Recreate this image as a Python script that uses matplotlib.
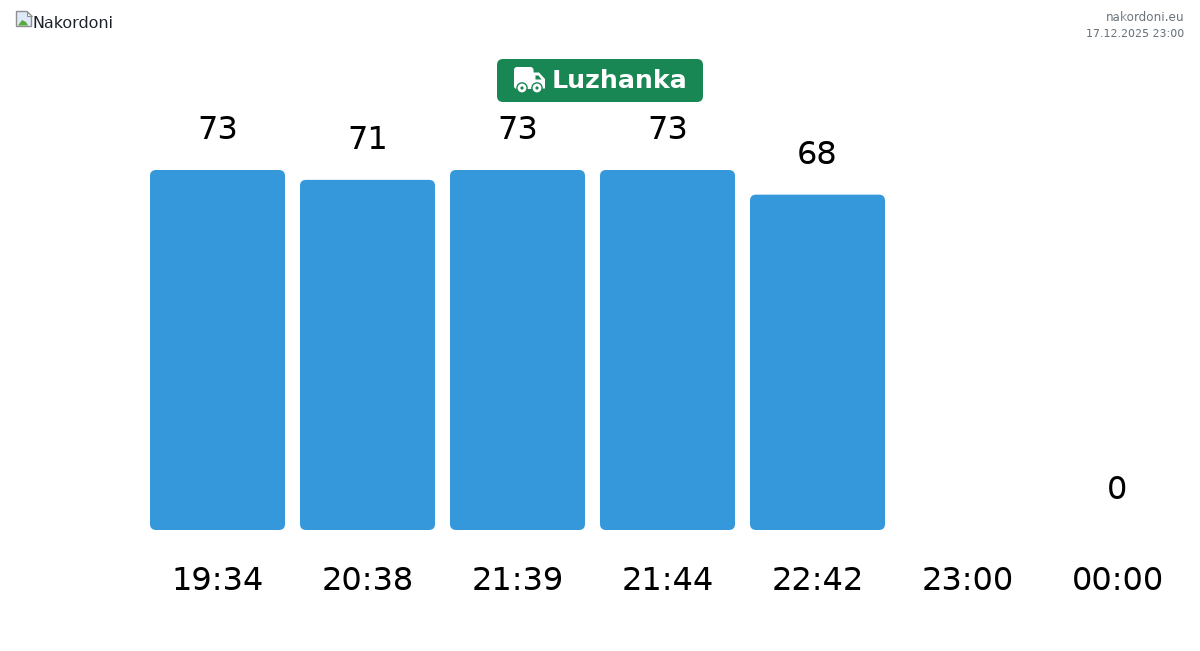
import matplotlib
matplotlib.use("Agg")
import matplotlib.pyplot as plt
from matplotlib.patches import FancyBboxPatch, Circle, Polygon

# chart values
times = ["19:34", "20:38", "21:39", "21:44", "22:42", "23:00", "00:00"]
counts = [73, 71, 73, 73, 68, None, 0]
site = "nakordoni.eu"
stamp = "17.12.2025 23:00"
logo_alt = "Nakordoni"
badge = "Luzhanka"

W, H = 1200, 651
BAR_COLOR = "#3498db"
GREEN = "#198754"
GREY = "#6c757d"
PT = 0.72  # px to pt at dpi 100

plt.rcParams["font.family"] = ["DejaVu Sans"]
plt.rcParams["text.hinting"] = "no_autohint"
fig = plt.figure(figsize=(W / 100, H / 100), dpi=100)

# overlay in pixel coordinates for header, badge and icons
top = fig.add_axes([0, 0, 1, 1])
top.set_xlim(0, W)
top.set_ylim(H, 0)
top.axis("off")

# bar axes: one category = 150 px, 73 = 360 px
ax = fig.add_axes([142.5 / W, (H - 530) / H, 1050 / W, 360 / H])
ax.set_xlim(-0.5, 6.5)
ax.set_ylim(0, 73)
ax.axis("off")

bar_w = 135 / 150
rx = 6 / 150
ry = 6 * 73 / 360
for i, (t, v) in enumerate(zip(times, counts)):
    if v:
        ax.add_patch(FancyBboxPatch((i - bar_w / 2, 0), bar_w, v,
                                    boxstyle=f"round,pad=0,rounding_size={rx}",
                                    mutation_aspect=ry / rx, fc=BAR_COLOR, ec="none"))
    if v is not None:
        ax.annotate(str(v), (i, v), xytext=(0, 31 * PT), textcoords="offset points",
                    ha="center", va="baseline", fontsize=32 * PT, color="black",
                    annotation_clip=False)
    ax.annotate(t, (i, 0), xytext=(0, -60 * PT), textcoords="offset points",
                ha="center", va="baseline", fontsize=32 * PT, color="black",
                annotation_clip=False)

# header text
top.text(33, 28, logo_alt, fontsize=16 * PT, color="#1a2029", ha="left", va="baseline")
top.text(1184, 21, site, fontsize=12 * PT, color=GREY, ha="right", va="baseline")
top.text(1184, 37, stamp, fontsize=11 * PT, color=GREY, ha="right", va="baseline")

# broken image icon
top.add_patch(Polygon([(16.5, 11.5), (27, 11.5), (31.5, 16), (31.5, 26.5), (16.5, 26.5)],
                      closed=True, fc="#dfe9f7", ec="#8f8f8f", lw=1.0))
top.add_patch(Polygon([(18, 25.5), (22, 20), (26, 22), (28, 25.5)], closed=True, fc="#5aa83c", ec="none"))
top.add_patch(Polygon([(27, 11.5), (27, 16), (31.5, 16)], closed=True, fc="white", ec="#8f8f8f", lw=0.8))

# badge
top.add_patch(FancyBboxPatch((497, 59), 206, 43, boxstyle="round,pad=0,rounding_size=6",
                             fc=GREEN, ec="none"))
top.text(552, 88.5, badge, fontsize=25.2 * PT, fontweight="bold", color="white",
         ha="left", va="baseline")

# truck icon
top.add_patch(FancyBboxPatch((514, 67), 19.5, 22, boxstyle="round,pad=0,rounding_size=3",
                             fc="white", ec="none"))
top.add_patch(Polygon([(533, 72.5), (539, 72.5), (545, 79), (545, 88.5), (533, 88.5)], closed=True,
                      fc="white", ec="none"))
top.add_patch(Polygon([(535.5, 75.5), (538.5, 75.5), (541.5, 79.5), (535.5, 79.5)], closed=True,
                      fc=GREEN, ec="none"))
for cx in (522, 537):
    top.add_patch(Circle((cx, 88), 5.8, fc=GREEN, ec="none", zorder=3))
    top.add_patch(Circle((cx, 88), 4.4, fc="white", ec="none", zorder=4))
    top.add_patch(Circle((cx, 88), 1.6, fc=GREEN, ec="none", zorder=5))

fig.savefig("out.png", dpi=100)
plt.close(fig)
